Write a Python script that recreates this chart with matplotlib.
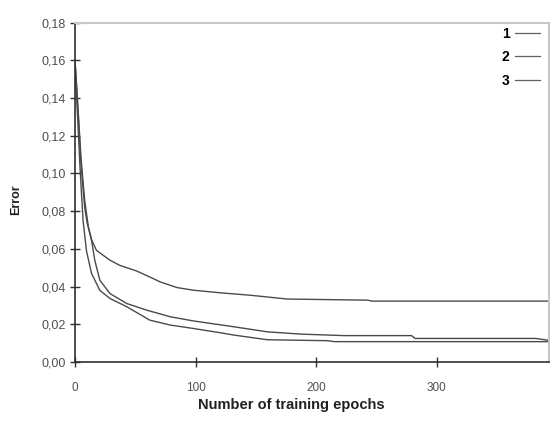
import matplotlib
matplotlib.use("Agg")
import matplotlib.pyplot as plt
from matplotlib.ticker import FuncFormatter

# Curve 1 (top)
x1 = [0, 2, 5, 8, 11, 13.7, 17.8, 29, 37, 51, 62, 70.6, 84.5, 98, 120.6, 145.6, 176, 243, 246, 395]
y1 = [0.160, 0.140, 0.108, 0.086, 0.072, 0.065, 0.0592, 0.054, 0.0513, 0.0483, 0.0451, 0.0425, 0.0395, 0.0381, 0.0367, 0.0354, 0.0334, 0.0328, 0.0323, 0.0323]

# Curve 2 (middle)
x2 = [0, 2, 5, 8, 10, 13.7, 16.4, 20.6, 29, 43, 59.5, 79, 98, 131.6, 159.5, 187, 223, 279, 282, 382, 395]
y2 = [0.160, 0.138, 0.105, 0.082, 0.074, 0.0645, 0.054, 0.0434, 0.0363, 0.031, 0.0275, 0.024, 0.0218, 0.0187, 0.016, 0.0148, 0.0140, 0.0140, 0.0125, 0.0125, 0.0113]

# Curve 3 (bottom)
x3 = [0, 2, 4, 5.5, 6.7, 9.5, 13.7, 20.6, 29, 43, 62, 79, 98, 120.6, 131.6, 159.5, 209.5, 215, 395]
y3 = [0.155, 0.132, 0.105, 0.088, 0.075, 0.059, 0.047, 0.038, 0.0337, 0.0293, 0.0222, 0.0196, 0.0178, 0.0155, 0.0143, 0.0118, 0.0113, 0.0108, 0.0108]

labels = ["1", "2", "3"]
xticks = [0, 100, 200, 300]
yticks = [0.00, 0.02, 0.04, 0.06, 0.08, 0.10, 0.12, 0.14, 0.16, 0.18]

plt.rcParams['font.family'] = ['Liberation Sans', 'DejaVu Sans']

fig = plt.figure(figsize=(5.52, 4.26), dpi=100)
ax = fig.add_axes([75/552, 64/426, 474/552, 339.3/426])

line_color = "#4a4a4a"
for xs, ys, lab in zip([x1, x2, x3], [y1, y2, y3], labels):
    ax.plot(xs, ys, color=line_color, lw=1.0, label=lab)

ax.set_xlim(0, 393)
ax.set_ylim(0, 0.18)
ax.set_xticks(xticks)
ax.set_yticks(yticks)
ax.yaxis.set_major_formatter(FuncFormatter(lambda v, p: f"{v:.2f}".replace(".", ",")))

for s in ["left", "bottom"]:
    ax.spines[s].set_color("#303030")
    ax.spines[s].set_linewidth(1.2)
for s in ["top", "right"]:
    ax.spines[s].set_color("#c8c8c8")
    ax.spines[s].set_linewidth(1.5)

ax.tick_params(axis="y", direction="inout", length=7, width=1, color="#303030",
               labelsize=9, labelcolor="#505050", pad=3)
ax.tick_params(axis="x", direction="inout", length=7, width=1, color="#303030",
               labelsize=8.5, labelcolor="#505050", pad=11)

fig.text(16/552, 1 - 200/426, "Error", rotation=90, ha="center", va="center",
         fontsize=9, fontweight="bold", color="#202020")
fig.text(291/552, 1 - 405/426, "Number of training epochs", ha="center", va="center",
         fontsize=10.5, fontweight="bold", color="#202020")

leg = ax.legend(loc="upper right", frameon=False, markerfirst=False,
                prop={"weight": "bold", "size": 10}, handlelength=1.8,
                handletextpad=0.4, labelspacing=0.68, borderpad=0, borderaxespad=0,
                bbox_to_anchor=(1 - 9/474, 1 - 4/339.3))
for h in leg.get_lines():
    h.set_color("#606060")
    h.set_linewidth(0.9)

fig.savefig("out.png", dpi=100)
